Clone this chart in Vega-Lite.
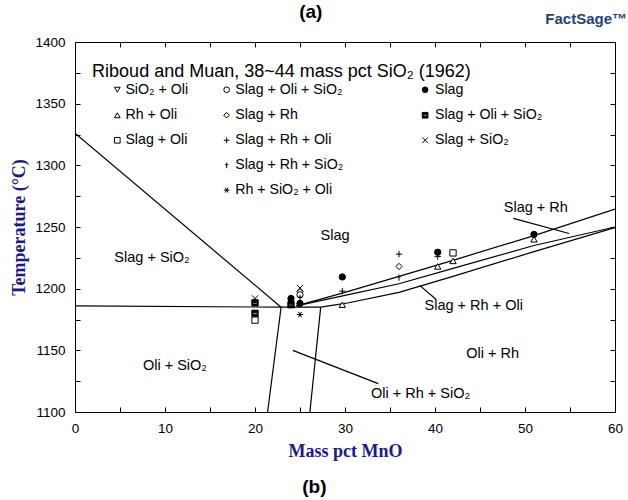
{
  "$schema": "https://vega.github.io/schema/vega-lite/v6.json",
  "width": 540,
  "height": 370,
  "autosize": "none",
  "padding": {"left": 75, "top": 42, "right": 13, "bottom": 88},
  "background": "white",
  "config": {
    "view": {"stroke": "black", "strokeWidth": 1},
    "font": "Liberation Sans"
  },
  "datasets": {
    "lines": [
      {"seg": "liqSiO2", "o": 1, "x": 0, "y": 1326},
      {"seg": "liqSiO2", "o": 2, "x": 22.9, "y": 1185},
      {"seg": "eut", "o": 1, "x": 0, "y": 1186},
      {"seg": "eut", "o": 2, "x": 22.9, "y": 1185},
      {"seg": "eut", "o": 3, "x": 27.3, "y": 1185},
      {"seg": "v1", "o": 1, "x": 22.9, "y": 1185},
      {"seg": "v1", "o": 2, "x": 21.4, "y": 1100},
      {"seg": "v2", "o": 1, "x": 27.3, "y": 1185},
      {"seg": "v2", "o": 2, "x": 26.1, "y": 1100},
      {"seg": "A", "o": 1, "x": 24.6, "y": 1186},
      {"seg": "A", "o": 2, "x": 30, "y": 1197},
      {"seg": "A", "o": 3, "x": 36, "y": 1210},
      {"seg": "A", "o": 4, "x": 42, "y": 1223},
      {"seg": "A", "o": 5, "x": 51, "y": 1243},
      {"seg": "A", "o": 6, "x": 60, "y": 1264.5},
      {"seg": "B", "o": 1, "x": 24.6, "y": 1186},
      {"seg": "B", "o": 2, "x": 30, "y": 1194.5},
      {"seg": "B", "o": 3, "x": 36, "y": 1204},
      {"seg": "B", "o": 4, "x": 42, "y": 1216.5},
      {"seg": "B", "o": 5, "x": 51, "y": 1235},
      {"seg": "B", "o": 6, "x": 60, "y": 1250},
      {"seg": "C", "o": 1, "x": 27.3, "y": 1185},
      {"seg": "C", "o": 2, "x": 30, "y": 1188},
      {"seg": "C", "o": 3, "x": 36, "y": 1197},
      {"seg": "C", "o": 4, "x": 42, "y": 1210},
      {"seg": "C", "o": 5, "x": 51, "y": 1230},
      {"seg": "C", "o": 6, "x": 60, "y": 1249.5},
      {"seg": "p1", "o": 1, "x": 48.7, "y": 1257},
      {"seg": "p1", "o": 2, "x": 54.9, "y": 1244.7},
      {"seg": "p2", "o": 1, "x": 38.3, "y": 1202.7},
      {"seg": "p2", "o": 2, "x": 40.1, "y": 1191.4},
      {"seg": "p3", "o": 1, "x": 24.2, "y": 1150},
      {"seg": "p3", "o": 2, "x": 33.7, "y": 1123}
    ],
    "points": [
      {"sym": "x", "x": 20, "y": 1192},
      {"sym": "x", "x": 25, "y": 1200.5},
      {"sym": "halfsq", "x": 20, "y": 1188.5},
      {"sym": "halfsq", "x": 20, "y": 1180},
      {"sym": "halfsq", "x": 24, "y": 1187},
      {"sym": "square", "x": 20, "y": 1174.5},
      {"sym": "square", "x": 42, "y": 1229},
      {"sym": "dot", "x": 24, "y": 1192},
      {"sym": "dot", "x": 25, "y": 1188},
      {"sym": "dot", "x": 29.7, "y": 1209.5},
      {"sym": "dot", "x": 40.3, "y": 1229.5},
      {"sym": "dot", "x": 51, "y": 1244},
      {"sym": "diamond", "x": 25, "y": 1197.5},
      {"sym": "diamond", "x": 36, "y": 1218},
      {"sym": "circle", "x": 25, "y": 1195},
      {"sym": "plus", "x": 29.7, "y": 1198},
      {"sym": "plus", "x": 36, "y": 1228},
      {"sym": "plus", "x": 40.3, "y": 1226},
      {"sym": "thinplus", "x": 25, "y": 1192.5},
      {"sym": "thinplus", "x": 36, "y": 1209},
      {"sym": "tri_up", "x": 29.7, "y": 1187},
      {"sym": "tri_up", "x": 40.3, "y": 1218},
      {"sym": "tri_up", "x": 42, "y": 1222.5},
      {"sym": "tri_up", "x": 51, "y": 1240},
      {"sym": "star", "x": 25, "y": 1179}
    ],
    "legend": [
      {"sym": "tri_down", "sx": 4.7, "lx": 5.6, "y": 1361.3, "label": "SiO₂ + Oli"},
      {"sym": "tri_up", "sx": 4.7, "lx": 5.6, "y": 1340.6, "label": "Rh + Oli"},
      {"sym": "square", "sx": 4.7, "lx": 5.6, "y": 1320.3, "label": "Slag + Oli"},
      {"sym": "circle", "sx": 16.85, "lx": 17.8, "y": 1361.3, "label": "Slag + Oli + SiO₂"},
      {"sym": "diamond", "sx": 16.85, "lx": 17.8, "y": 1340.6, "label": "Slag + Rh"},
      {"sym": "plus", "sx": 16.85, "lx": 17.8, "y": 1320.3, "label": "Slag + Rh + Oli"},
      {"sym": "thinplus", "sx": 16.85, "lx": 17.8, "y": 1300, "label": "Slag + Rh + SiO₂"},
      {"sym": "star", "sx": 16.85, "lx": 17.8, "y": 1279.9, "label": "Rh + SiO₂ + Oli"},
      {"sym": "dot", "sx": 38.9, "lx": 40, "y": 1361.3, "label": "Slag"},
      {"sym": "halfsq", "sx": 38.9, "lx": 40, "y": 1340.6, "label": "Slag + Oli + SiO₂"},
      {"sym": "x", "sx": 38.9, "lx": 40, "y": 1320.3, "label": "Slag + SiO₂"}
    ],
    "regions": [
      {"x": 8.56, "y": 1224.6, "label": "Slag + SiO₂"},
      {"x": 28.9, "y": 1242.5, "label": "Slag"},
      {"x": 51.2, "y": 1265.2, "label": "Slag + Rh"},
      {"x": 44.3, "y": 1185.7, "label": "Slag + Rh + Oli"},
      {"x": 11.1, "y": 1137, "label": "Oli + SiO₂"},
      {"x": 46.4, "y": 1146.7, "label": "Oli + Rh"},
      {"x": 38.4, "y": 1115, "label": "Oli + Rh + SiO₂"}
    ],
    "heading": [
      {"x": 1.9, "y": 1376, "label": "Riboud and Muan, 38~44 mass pct SiO₂ (1962)"}
    ],
    "panels": [
      {"x": 26.2, "y": 1424.5, "label": "(a)"},
      {"x": 26.6, "y": 1039, "label": "(b)"}
    ],
    "logo": [
      {"x": 56.8, "y": 1419, "label": "FactSage™"}
    ]
  },
  "resolve": {"axis": {"x": "independent", "y": "independent"}},
  "layer": [
    {
      "data": {"name": "lines"},
      "mark": {"type": "line", "color": "black", "strokeWidth": 1.2, "clip": true},
      "encoding": {
        "x": {
          "field": "x", "type": "quantitative",
          "scale": {"domain": [0, 60], "nice": false, "zero": false},
          "axis": {
            "orient": "bottom", "zindex": 2, "offset": -5, "domain": false,
            "title": "Mass pct MnO",
            "titleFont": "Liberation Serif", "titleFontSize": 18, "titleFontWeight": "bold", "titleColor": "#1a1a8a",
            "titlePadding": 8,
            "values": [0, 5, 10, 15, 20, 25, 30, 35, 40, 45, 50, 55, 60],
            "format": "d",
            "labelExpr": "datum.value % 10 === 0 ? datum.label : ''",
            "labelFont": "Liberation Sans", "labelFontSize": 13.5, "labelColor": "black",
            "labelFlush": false, "labelPadding": 9, "labelOverlap": false,
            "ticks": true, "tickSize": 5, "tickWidth": 1, "tickColor": "black", "grid": false
          }
        },
        "y": {
          "field": "y", "type": "quantitative",
          "scale": {"domain": [1100, 1400], "nice": false, "zero": false},
          "axis": {
            "orient": "left", "zindex": 2, "offset": -5, "domain": false,
            "title": "Temperature (°C)",
            "titleFont": "Liberation Serif", "titleFontSize": 18, "titleFontWeight": "bold", "titleColor": "#1a1a8a",
            "titlePadding": 6,
            "values": [1100, 1125, 1150, 1175, 1200, 1225, 1250, 1275, 1300, 1325, 1350, 1375, 1400],
            "format": "d",
            "labelExpr": "datum.value % 50 === 0 ? datum.label : ''",
            "labelFont": "Liberation Sans", "labelFontSize": 13.5, "labelColor": "black",
            "labelFlush": false, "labelPadding": 10, "labelOverlap": false,
            "ticks": true, "tickSize": 5, "tickWidth": 1, "tickColor": "black", "grid": false
          }
        },
        "detail": {"field": "seg"},
        "order": {"field": "o"}
      }
    },
    {
      "data": {"name": "points"},
      "mark": {"type": "point", "stroke": "black", "strokeWidth": 1, "size": 40, "opacity": 1},
      "encoding": {
        "x": {
          "field": "x", "type": "quantitative",
          "axis": {
            "orient": "top", "zindex": 2, "offset": -5, "domain": false, "title": null, "labels": false,
            "values": [0, 5, 10, 15, 20, 25, 30, 35, 40, 45, 50, 55, 60],
            "ticks": true, "tickSize": 5, "tickWidth": 1, "tickColor": "black", "grid": false
          }
        },
        "y": {
          "field": "y", "type": "quantitative",
          "axis": {
            "orient": "right", "zindex": 2, "offset": -5, "domain": false, "title": null, "labels": false,
            "values": [1100, 1125, 1150, 1175, 1200, 1225, 1250, 1275, 1300, 1325, 1350, 1375, 1400],
            "ticks": true, "tickSize": 5, "tickWidth": 1, "tickColor": "black", "grid": false
          }
        },
        "shape": {
          "field": "sym", "type": "nominal", "legend": null,
          "scale": {
            "domain": ["tri_down", "tri_up", "square", "circle", "diamond", "plus", "thinplus", "star", "dot", "halfsq", "x"],
            "range": ["triangle-down", "triangle-up", "square", "circle", "diamond", "M-1,0H1M0,-1V1", "M-0.6,-0.25H0.6M0,-1V1", "M-1,0H1M-0.5,-0.87L0.5,0.87M-0.5,0.87L0.5,-0.87", "circle", "M-1,-1H1V1H-1Z M-0.7,-0.15V0.35H0.7V-0.15Z", "M-1,-1L1,1M-1,1L1,-1"]
          }
        },
        "fill": {
          "field": "sym", "type": "nominal", "legend": null,
          "scale": {
            "domain": ["tri_down", "tri_up", "square", "circle", "diamond", "plus", "thinplus", "star", "dot", "halfsq", "x"],
            "range": ["white", "white", "white", "white", "white", "transparent", "transparent", "transparent", "black", "black", "transparent"]
          }
        }
      }
    },
    {
      "data": {"name": "legend"},
      "mark": {"type": "point", "stroke": "black", "strokeWidth": 1, "size": 32, "opacity": 1},
      "encoding": {
        "x": {"field": "sx", "type": "quantitative", "axis": null},
        "y": {"field": "y", "type": "quantitative", "axis": null},
        "shape": {"field": "sym", "type": "nominal", "legend": null},
        "fill": {"field": "sym", "type": "nominal", "legend": null}
      }
    },
    {
      "data": {"name": "legend"},
      "mark": {"type": "text", "align": "left", "baseline": "middle", "font": "Liberation Sans", "fontSize": 14.2, "color": "black"},
      "encoding": {
        "x": {"field": "lx", "type": "quantitative", "axis": null},
        "y": {"field": "y", "type": "quantitative", "axis": null},
        "text": {"field": "label"}
      }
    },
    {
      "data": {"name": "regions"},
      "mark": {"type": "text", "align": "center", "baseline": "middle", "font": "Liberation Sans", "fontSize": 14.5, "color": "black"},
      "encoding": {
        "x": {"field": "x", "type": "quantitative", "axis": null},
        "y": {"field": "y", "type": "quantitative", "axis": null},
        "text": {"field": "label"}
      }
    },
    {
      "data": {"name": "heading"},
      "mark": {"type": "text", "align": "left", "baseline": "middle", "font": "Liberation Sans", "fontSize": 18, "color": "black"},
      "encoding": {
        "x": {"field": "x", "type": "quantitative", "axis": null},
        "y": {"field": "y", "type": "quantitative", "axis": null},
        "text": {"field": "label"}
      }
    },
    {
      "data": {"name": "panels"},
      "mark": {"type": "text", "align": "center", "baseline": "middle", "font": "Liberation Sans", "fontSize": 19, "fontWeight": "bold", "color": "black", "clip": false},
      "encoding": {
        "x": {"field": "x", "type": "quantitative", "axis": null},
        "y": {"field": "y", "type": "quantitative", "axis": null},
        "text": {"field": "label"}
      }
    },
    {
      "data": {"name": "logo"},
      "mark": {"type": "text", "align": "center", "baseline": "middle", "font": "Liberation Sans", "fontSize": 15, "fontWeight": "bold", "color": "#1f3f7f", "clip": false},
      "encoding": {
        "x": {"field": "x", "type": "quantitative", "axis": null},
        "y": {"field": "y", "type": "quantitative", "axis": null},
        "text": {"field": "label"}
      }
    }
  ]
}
